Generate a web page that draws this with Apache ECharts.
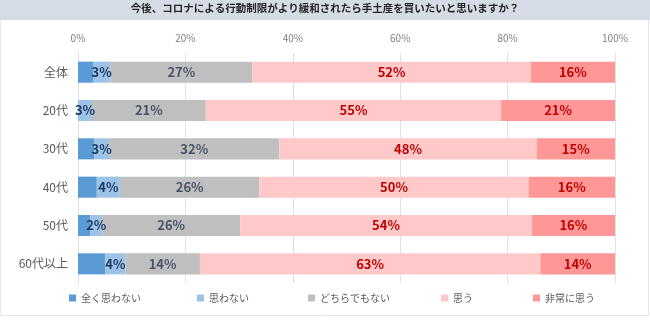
<!DOCTYPE html>
<html><head><meta charset="utf-8">
<script src="https://cdn.jsdelivr.net/npm/echarts@6/dist/echarts.min.js"></script>
<style>html,body{margin:0;padding:0;background:#fff}#c{width:650px;height:327px}</style>
</head><body><div id="c"></div>
<script>
const categories = ['全体','20代','30代','40代','50代','60代以上'];
const seriesNames = ['全く思わない','思わない','どちらでもない','思う','非常に思う'];
const notAtAll = [2.8,0,3.0,3.5,2.3,5.1];
const notThink = [3.2,2.6,2.8,4.3,2.2,3.7];
const neither = [26.5,21.2,31.7,26.0,25.7,13.9];
const think = [51.8,55.0,47.9,50.1,54.3,63.4];
const stronglyThink = [15.7,21.2,14.6,16.1,15.5,13.9];
const xTicks = [0,20,40,60,80,100];

const colors = ['#5B9BD5','#9DC3E6','#BFBFBF','#FFC9C9','#FF9797'];
const labelColors = [null,'#203864','#4A5366','#C00000','#C00000'];
const values = [notAtAll, notThink, neither, think, stronglyThink];
const FONT = '"Noto Sans CJK JP", sans-serif';

const chart = echarts.init(document.getElementById('c'), null, {renderer:'canvas'});
const legendX = [64, 192, 303, 436, 528];
chart.setOption({
  animation:false,
  textStyle:{fontFamily:FONT},
  graphic:[
    {type:'rect', shape:{x:0.5,y:0.5,width:648,height:315}, style:{fill:'#fff',stroke:'#E2E6EC',lineWidth:1}, z:-10},
    {type:'rect', shape:{x:0,y:0,width:650,height:20}, style:{fill:'#D6DCE5'}, z:-9},
    {type:'text', left:'center', top:3, style:{text:'今後、コロナによる行動制限がより緩和されたら手土産を買いたいと思いますか？', font:'bold 10.5px '+FONT, fill:'#262626'}}
  ],
  legend: seriesNames.map((n,i)=>({
    data:[n], left:legendX[i], top:288, itemWidth:7, itemHeight:7, itemGap:4,
    icon:'rect', textStyle:{fontSize:10, color:'#595959', fontFamily:FONT}, selectedMode:false
  })),
  grid:{left:78, right:35, top:53, height:230, containLabel:false},
  xAxis:{type:'value', min:0, max:100, interval:20, position:'top',
    axisLabel:{formatter:v=>xTicks.includes(v)?v+'%':'', color:'#7F7F7F', fontSize:10, margin:10},
    axisLine:{show:false}, axisTick:{show:false},
    splitLine:{lineStyle:{color:'#DCE1EA', width:1}}},
  yAxis:{type:'category', data:categories, inverse:true,
    axisLine:{lineStyle:{color:'#DCE1EA'}}, axisTick:{show:false},
    axisLabel:{color:'#595959', fontSize:12, margin:10}},
  series: seriesNames.map((n,i)=>({
    name:n, type:'bar', stack:'all', data:values[i], barCategoryGap:'45%',
    itemStyle:{color:colors[i]},
    label: i===0 ? {show:false} : {show:true, position:'inside',
      formatter:p=>Math.round(p.value)+'%',
      color:labelColors[i], fontSize:13, fontWeight:'bold', fontFamily:FONT}
  }))
});
</script></body></html>
